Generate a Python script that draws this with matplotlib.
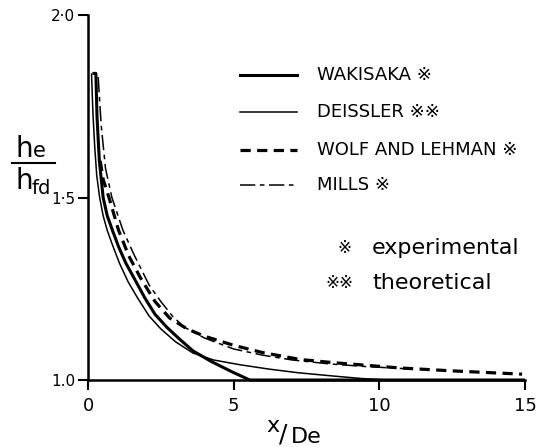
import matplotlib
matplotlib.use("Agg")
import matplotlib.pyplot as plt
from matplotlib.lines import Line2D

# --- data -------------------------------------------------------------
wakisaka_x = [0.15, 0.27, 0.31, 0.39, 0.52, 0.66, 0.84, 1.05, 1.3, 1.61, 1.95, 2.3,
              2.7, 3.1, 3.6, 4.2, 4.9, 5.55, 15.0]
wakisaka_y = [1.84, 1.84, 1.72, 1.60, 1.50, 1.45, 1.41, 1.365, 1.32, 1.275, 1.225,
              1.18, 1.145, 1.115, 1.08, 1.052, 1.024, 1.0, 1.0]

deissler_x = [0.12, 0.17, 0.23, 0.3, 0.4, 0.52, 0.66, 0.84, 1.08, 1.37, 1.7, 2.1,
              2.5, 3.0, 3.6, 4.3, 5.2, 6.2, 7.2, 8.4, 9.4, 10.3, 15.0]
deissler_y = [1.84, 1.73, 1.64, 1.56, 1.50, 1.45, 1.41, 1.37, 1.32, 1.27, 1.225,
              1.175, 1.14, 1.105, 1.074, 1.055, 1.042, 1.03, 1.02, 1.011, 1.004,
              1.0, 1.0]

wolf_x = [0.42, 0.52, 0.72, 1.05, 1.4, 1.8, 2.3, 2.8, 3.4, 4.0, 5.0, 6.0, 7.3, 8.5,
          10.7, 12.5, 14.9]
wolf_y = [1.60, 1.55, 1.50, 1.41, 1.34, 1.28, 1.215, 1.17, 1.14, 1.12, 1.095,
          1.075, 1.056, 1.047, 1.033, 1.025, 1.016]

mills_x = [0.35, 0.45, 0.6, 0.82, 1.2, 1.6, 2.1, 2.5, 2.9, 3.3, 4.0, 5.0, 6.0,
           7.0, 8.3, 9.5, 10.9]
mills_y = [1.83, 1.70, 1.58, 1.50, 1.41, 1.34, 1.26, 1.215, 1.175, 1.145, 1.115,
           1.085, 1.068, 1.055, 1.044, 1.037, 1.031]

series_names = ["WAKISAKA ※", "DEISSLER ※※", "WOLF AND LEHMAN ※", "MILLS ※"]
x_ticks = [0, 5, 10, 15]
y_ticks = [1.0, 1.5, 2.0]
y_tick_labels = ["1.0", "1·5", "2·0"]

# --- figure -----------------------------------------------------------
W, H = 547, 447
fig = plt.figure(figsize=(W / 100, H / 100), dpi=100)
plt.rcParams["font.family"] = ["DejaVu Sans"]


def fx(px):
    return px / W


def fy(py):
    return 1 - py / H


ax = fig.add_axes([fx(88), fy(380), (525 - 88) / W, (380 - 15) / H])
ax.set_xlim(0, 15)
ax.set_ylim(1.0, 2.0)

for s in ("top", "right"):
    ax.spines[s].set_visible(False)
for s in ("left", "bottom"):
    ax.spines[s].set_linewidth(1.8)
    ax.spines[s].set_color("black")

ax.set_xticks(x_ticks)
ax.set_xticklabels([str(t) for t in x_ticks], fontsize=13)
ax.set_yticks(y_ticks)
ax.set_yticklabels(y_tick_labels, fontsize=11)
ax.tick_params(axis="both", direction="out", length=7, width=1.5, colors="black")
ax.tick_params(axis="x", pad=5)
ax.tick_params(axis="y", pad=2)

styles = [
    dict(color="black", lw=2.2, ls="-"),
    dict(color="black", lw=1.1, ls="-"),
    dict(color="black", lw=2.3, ls=(0, (3.2, 2.0))),
    dict(color="black", lw=1.1, ls=(0, (10, 3, 3, 3))),
]
curves = [(wakisaka_x, wakisaka_y), (deissler_x, deissler_y),
          (wolf_x, wolf_y), (mills_x, mills_y)]
for (cx, cy), st in zip(curves, styles):
    ax.plot(cx, cy, solid_capstyle="butt", dash_capstyle="butt",
            solid_joinstyle="round", clip_on=False, **st)

# legend drawn by hand in figure pixels
legend_rows = [75, 112, 150, 185]
for name, row, st in zip(series_names, legend_rows, styles):
    fig.add_artist(Line2D([fx(240), fx(297)], [fy(row), fy(row)],
                          transform=fig.transFigure, **st))
    fig.text(fx(317), fy(row), name, fontsize=13, va="center", ha="left")

fig.text(fx(337), fy(248), "※", fontsize=12, va="center", ha="left")
fig.text(fx(372), fy(248), "experimental", fontsize=16, va="center", ha="left")
fig.text(fx(325), fy(283), "※※", fontsize=12, va="center", ha="left")
fig.text(fx(372), fy(283), "theoretical", fontsize=16, va="center", ha="left")

# y-axis label as a fraction h_e / h_fd
fig.text(fx(16), fy(157), "h", fontsize=20, va="baseline", ha="left")
fig.text(fx(33), fy(157), "e", fontsize=15, va="baseline", ha="left")
fig.add_artist(Line2D([fx(12), fx(55)], [fy(163), fy(163)],
                      transform=fig.transFigure, color="black", lw=1.5))
fig.text(fx(15), fy(189), "h", fontsize=20, va="baseline", ha="left")
fig.text(fx(32), fy(194), "fd", fontsize=14, va="baseline", ha="left")

# x-axis label x/De
fig.text(fx(266), fy(432), "x", fontsize=16, va="baseline", ha="left")
fig.text(fx(279), fy(441), "/", fontsize=18, va="baseline", ha="left")
fig.text(fx(291), fy(443), "De", fontsize=16, va="baseline", ha="left")

fig.savefig("out.png", dpi=100)
